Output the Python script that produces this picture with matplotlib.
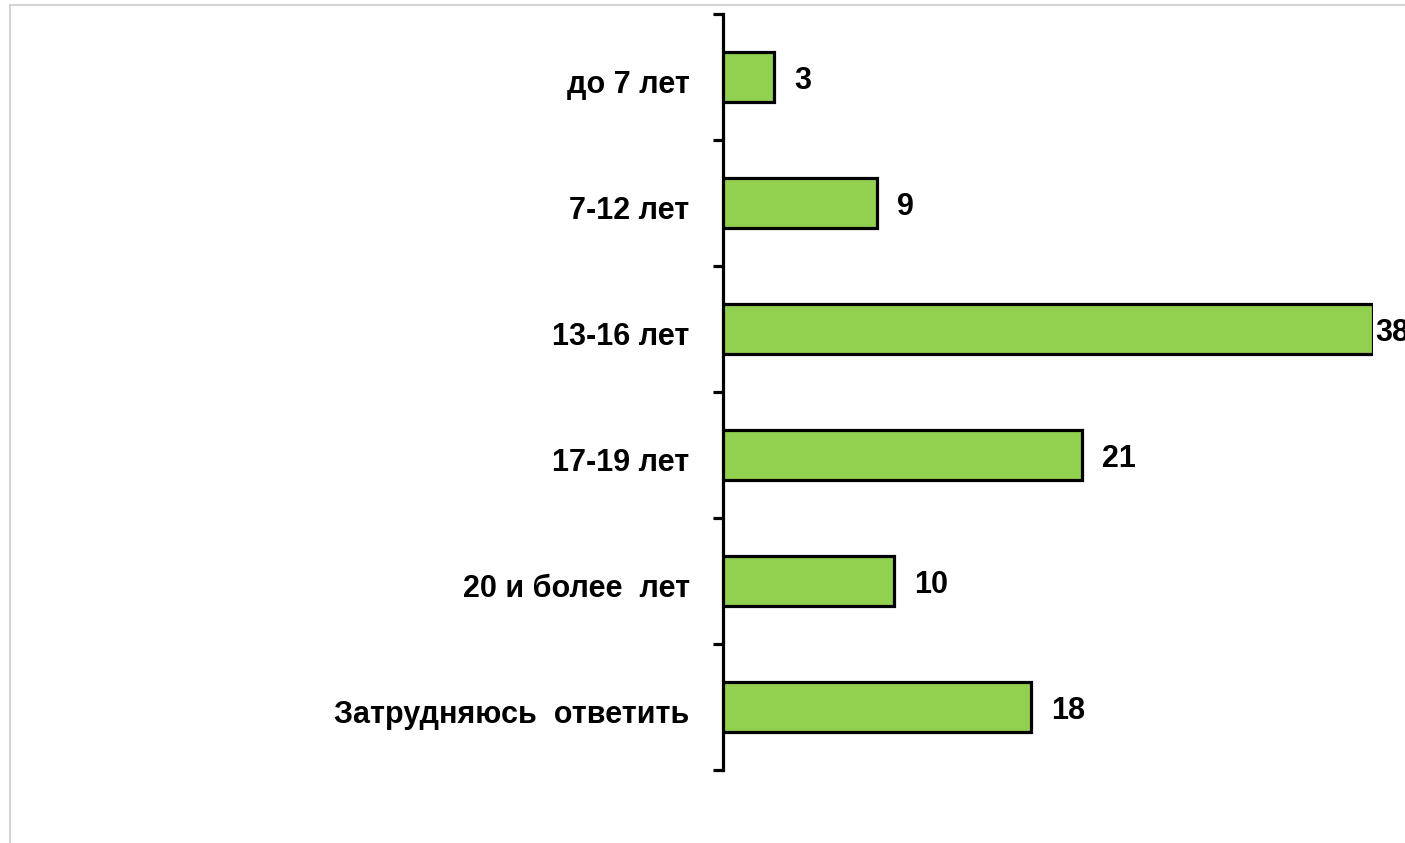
import matplotlib.pyplot as plt
import matplotlib.transforms as mtransforms
import numpy as np
from matplotlib.lines import Line2D

# categories, top to bottom
categories = ['до 7 лет', '7-12 лет', '13-16 лет', '17-19 лет',
              '20 и более  лет', 'Затрудняюсь  ответить']
values = [3, 9, 38, 21, 10, 18]

plt.rcParams['font.family'] = ['Liberation Sans', 'DejaVu Sans']

fig = plt.figure(figsize=(14.05, 8.43), dpi=100)
ax = fig.add_axes([723/1405, 1-770/843, 650/1405, 756/843])

pos = np.arange(len(categories))
ax.barh(pos, values, height=0.4, color='#92D050', edgecolor='black',
        linewidth=2.3, zorder=3)

ax.set_xlim(0, max(values))
ax.set_ylim(len(categories)-0.5, -0.5)

for s in ['top', 'right', 'bottom']:
    ax.spines[s].set_visible(False)
ax.spines['left'].set_linewidth(2.3)
ax.set_xticks([])

ax.set_yticks(pos)
ax.set_yticklabels(categories, fontsize=22, fontweight='bold')
ax.tick_params(axis='y', which='major', length=0, pad=24)
ax.set_yticks(np.arange(-0.5, len(categories)), minor=True)
ax.tick_params(axis='y', which='minor', length=7, width=2.3, direction='out')

# labels sit a few pixels below the bar centre in the source
shift = mtransforms.ScaledTranslation(0, -3/72, fig.dpi_scale_trans)
for lbl in ax.get_yticklabels():
    lbl.set_transform(lbl.get_transform() + shift)

# value labels; the biggest one sits right on the bar end, as in the source
vmax = max(values)
for p, v in zip(pos, values):
    off = 2 if v == vmax else 20
    ax.annotate(str(v), (v, p), xytext=(off * 0.72, -3), textcoords='offset points',
                va='center', ha='left', fontsize=22, fontweight='bold',
                annotation_clip=False, clip_on=False)

# thin gray frame around the slide area
fig.add_artist(Line2D([10/1405, 1], [1-5/843, 1-5/843], color='#cccccc', lw=1.2,
                      transform=fig.transFigure))
fig.add_artist(Line2D([10/1405, 10/1405], [0, 1-5/843], color='#cccccc', lw=1.2,
                      transform=fig.transFigure))

fig.savefig('out.png', dpi=100)
